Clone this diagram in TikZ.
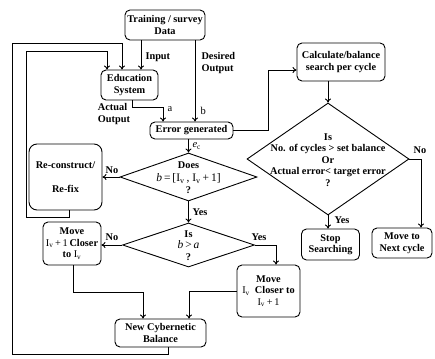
\documentclass[tikz,border=0pt]{standalone}
\usepackage{fontspec}
\setmainfont{Liberation Serif}
\usetikzlibrary{arrows.meta,shapes.geometric}
\tikzset{
  lbl/.style={font=\bfseries\fontsize{10.3}{11.5}\selectfont},
  box/.style={draw, rounded corners=5pt, line width=0.9pt, align=center, inner sep=1pt, lbl},
  dia/.style={draw, diamond, line width=0.9pt, inner sep=0pt},
  arr/.style={draw, line width=0.9pt, -{To[length=4pt,width=6pt]}},
  plain/.style={font=\fontsize{10.5}{12}\selectfont},
}
\newcommand{\Iv}{I\textsubscript{v}}
\begin{document}
\begin{tikzpicture}[x=1pt,y=-1pt]
\useasboundingbox (0,0) rectangle (435,358);
% nodes
\node[box, minimum width=80, minimum height=30] (train) at (165,25) {Training / survey\\Data};
\node[box, minimum width=57, minimum height=30] (edu) at (129.5,85) {Education\\System};
\node[box, minimum width=83, minimum height=17] (err) at (191.5,130.5) {Error generated};
\node[box, minimum width=88, minimum height=38] (calc) at (341,62) {Calculate/balance\\search per cycle};
\node[dia, minimum width=162, minimum height=112] (d1) at (328,159) {};
\node[lbl, align=center, inner sep=0pt] (d1t) at (328,160) {Is\\No. of cycles > set balance\\Or\\Actual error< target error\\?};
\node[box, minimum width=58, minimum height=31] (stop) at (330.5,244.5) {Stop\\Searching};
\node[box, minimum width=60, minimum height=30] (next) at (402,243) {Move to\\Next cycle};
\node[dia, minimum width=137, minimum height=48] (d2) at (188.5,177) {};
\node[lbl, align=center] (d2t) at (188.5,178) {Does\\[1pt]{\mdseries\fontsize{11.5}{12}\selectfont\textit{b}\,=\,[\Iv\,, \Iv\,+\,1]}\\[1pt]?};
\node[box, rounded corners=8pt, minimum width=73, minimum height=66] (recon) at (65.5,177) {Re-construct/\\[12pt]Re-fix};
\node[dia, minimum width=132, minimum height=44] (d3) at (188.5,245) {};
\node[lbl, align=center] (d3t) at (188.5,245.5) {Is\\{\mdseries\fontsize{11.5}{12}\selectfont\textit{b}\,>\,\textit{a}}\\?};
\node[box, minimum width=58, minimum height=43] (mv1) at (72,243.5) {Move\\{\mdseries\Iv\,+\,1}\,Closer\\to {\mdseries\Iv}};
\node[box, minimum width=63, minimum height=52] (mv2) at (268.5,291) {Move\\{\mdseries\Iv}\ \ Closer to\\{\mdseries\Iv\,+\,1}};
\node[box, minimum width=91, minimum height=28] (ncb) at (160.5,333) {New Cybernetic\\Balance};
% connectors
\draw[arr] (141,0 |- train.south) -- (141,0 |- edu.north);
\node[lbl, anchor=west] (inp) at (142,57) {Input};
\draw[arr] (195,0 |- train.south) -- (195,0 |- err.north);
\node[lbl, anchor=west, align=left] (des) at (198,63) {Desired\\Output};
\node[plain, anchor=west] (lb) at (197,111) {b};
\draw[arr] (132,0 |- edu.south) -- (132,107) -| (163,0 |- err.north);
\node[plain, anchor=west] (la) at (164,109) {a};
\node[lbl, align=left] (act) at (114,114) {Actual\\Output};
\draw[arr] (err.east) -| (268,70) -- (calc.west |- 268,70);
\draw[arr] (d1.north |- calc.south) -- (d1.north);
\draw[arr] (d1.south) -- (d1.south |- stop.north);
\node[lbl, anchor=west] (y1) at (331,220) {Yes};
\draw[arr] (d1.east) -| (421,0 |- next.north);
\node[lbl] (n1) at (420,150) {No};
\draw[arr] (d2.north |- err.south) -- (d2.north);
\node[plain, anchor=west] (ec) at (189,146) {\textit{e}\textsubscript{c}};
\draw[arr] (d2.west) -- (recon.east |- d2.west);
\node[lbl] (n2) at (112,170) {No};
\draw[arr] (d2.south) -- (d3.north);
\node[lbl, anchor=west] (y2) at (189,212) {Yes};
\draw[arr] (d3.west) -- (mv1.east |- d3.west);
\node[lbl] (n3) at (112,237) {No};
\draw[arr] (d3.east) -| (276,0 |- mv2.north);
\node[lbl] (y3) at (259,237) {Yes};
\draw[arr] (73,0 |- mv1.south) |- (143,292) -- (143,0 |- ncb.north);
\draw[arr] (mv2.west) -| (189,0 |- ncb.north);
\draw[arr] (168,0 |- ncb.south) -- (168,354) -| (12,43) -| (122,0 |- edu.north);
\draw[arr] (69,0 |- recon.south) -- (69,217) -| (26,51) -| (107,0 |- edu.north);
\end{tikzpicture}
\end{document}
